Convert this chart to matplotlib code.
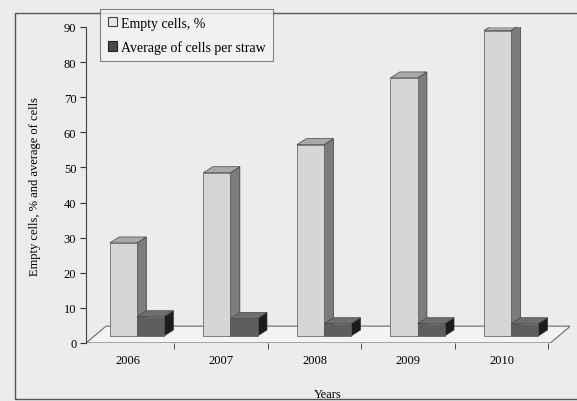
import numpy as np
import matplotlib
matplotlib.use("Agg")
import matplotlib.pyplot as plt
from matplotlib.patches import Polygon, Rectangle, Patch

years = ["2006", "2007", "2008", "2009", "2010"]
empty_cells = [26.5, 46.5, 54.5, 73.5, 87]
avg_cells = [5.5, 5, 3.5, 3.5, 3.5]

plt.rcParams['font.family'] = ['Liberation Serif', 'DejaVu Serif']
plt.rcParams['font.size'] = 9

W, H = 577, 402
fig = plt.figure(figsize=(W / 100, H / 100), dpi=100)
fig.patch.set_facecolor('#ececec')

# axes placed in pixel terms (y: 0 at 344px, 90 at 28px)
ax = fig.add_axes([86 / W, (H - 344) / H, (570 - 86) / W, (344 - 28) / H])
ax.set_facecolor('none')
ax.set_xlim(-0.545, 4.63)
ax.set_ylim(0, 90)

# 3d look parameters (data units)
w = 0.29
dx, dy = 0.1, 1.7
base = 2.0
fdx, fdy = 0.214, 4.8

# floor
floor = Polygon([(-0.545, 0), (4.42, 0), (4.42 + fdx, fdy), (-0.545 + fdx, fdy)],
                closed=True, facecolor='#f3f3f3', edgecolor='#777777', lw=0.9, zorder=1)
ax.add_patch(floor)


def bar3d(x_left, h, front, side, top, z):
    ax.bar(x_left, h, width=w, bottom=base, align='edge', color=front,
           edgecolor='#555555', lw=0.5, zorder=z + 0.2)
    t = base + h
    r = x_left + w
    ax.add_patch(Polygon([(r, base), (r + dx, base + dy), (r + dx, t + dy), (r, t)],
                         closed=True, facecolor=side, edgecolor='#333333', lw=0.5, zorder=z))
    ax.add_patch(Polygon([(x_left, t), (x_left + dx, t + dy), (r + dx, t + dy), (r, t)],
                         closed=True, facecolor=top, edgecolor='#444444', lw=0.5, zorder=z + 0.1))


x = np.arange(len(years))
for i in range(len(years)):
    bar3d(x[i] - w, empty_cells[i], '#d6d6d6', '#7c7c7c', '#a9a9a9', 2 + i)
    bar3d(x[i], avg_cells[i], '#5e5e5e', '#1c1c1c', '#6e6e6e', 2.5 + i)

ax.set_yticks(range(0, 91, 10))
ax.set_xticks(x - 0.1)
ax.set_xticklabels(years)
ax.set_xticks(x + 0.4, minor=True)
ax.tick_params(axis='x', which='major', length=0, pad=8)
ax.tick_params(axis='x', which='minor', length=4, direction='out', color='#333333')
ax.tick_params(axis='y', length=4, direction='out', pad=3, color='#333333')
for s in ['top', 'right', 'bottom']:
    ax.spines[s].set_visible(False)
ax.spines['left'].set_color('#444444')

ax.set_xlabel("Years", labelpad=16)
ax.set_ylabel("Empty cells, % and average of cells")
ax.yaxis.set_label_coords(-0.094, 0.5)

handles = [Patch(facecolor='#e6e6e6', edgecolor='#444444', lw=0.8),
           Patch(facecolor='#4a4a4a', edgecolor='#222222', lw=0.8)]
leg = fig.legend(handles, ["Empty cells, %", "Average of cells per straw"],
                 loc='upper left', bbox_to_anchor=(100 / W, (H - 10) / H),
                 frameon=True, fancybox=False, handlelength=0.65, handleheight=0.65,
                 handletextpad=0.3, labelspacing=0.75, borderpad=0.55, borderaxespad=0,
                 fontsize=10)
leg.get_frame().set_edgecolor('#666666')
leg.get_frame().set_facecolor('#f3f3f3')
leg.get_frame().set_linewidth(0.8)

# chart area border
fig.patches.append(Rectangle((15 / W, 2 / H), 1.0, (400 - 14) / H, transform=fig.transFigure,
                             fill=False, edgecolor='#555555', lw=1.0, zorder=0))

fig.savefig("out.png", dpi=100, facecolor=fig.get_facecolor())
